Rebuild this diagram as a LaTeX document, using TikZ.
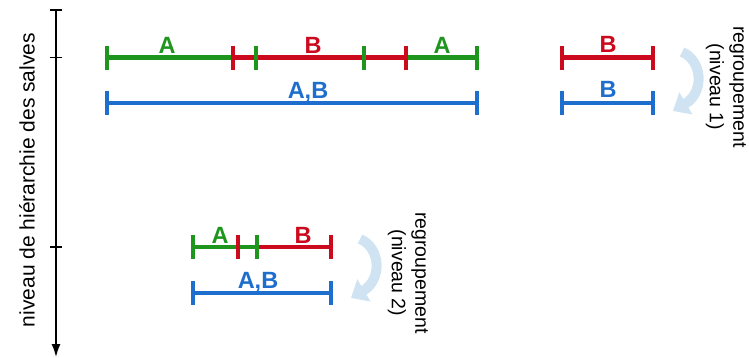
\documentclass[tikz,border=0pt]{standalone}
\usepackage{fontspec}
\setmainfont{Liberation Sans}
\usetikzlibrary{arrows.meta}
\definecolor{segA}{HTML}{1E961E}
\definecolor{segB}{HTML}{CC0A1E}
\definecolor{segAB}{HTML}{1E6ECD}
\definecolor{regfill}{HTML}{CFE3F2}
\tikzset{
  seg/.style={line width=4.8pt},
  tickmark/.style={line width=3.3pt},
  lab/.style={font=\fontsize{23.5}{27}\selectfont\bfseries, anchor=base, inner sep=0pt},
  note/.style={font=\fontsize{19.5}{23.5}\selectfont, align=center, rotate=-90, inner sep=0pt},
  axisline/.style={line width=1.5pt, black},
  regroup/.pic={
    \draw[draw=regfill, line width=10pt, -{Triangle[width=25pt,length=15pt]}]
      (10,2) .. controls (30,10) and (33,42) .. (1,61);
  }
}
\begin{document}
\begin{tikzpicture}[x=1pt,y=-1pt]
  \useasboundingbox (0,0) rectangle (749,357);

  % vertical axis: burst hierarchy level
  \coordinate (axtop) at (56,10);
  \coordinate (axbot) at (56,357);
  \coordinate (lvA) at (56,57.5);
  \coordinate (lvB) at (56,247);
  \draw[axisline, -{Latex[length=13pt,width=9pt]}] (axtop) -- (axbot);
  \draw[axisline] (axtop) ++(-6,0) -- ++(12,0);
  \draw[axisline] (lvA) ++(-6,0) -- ++(12,0);
  \draw[axisline] (lvB) ++(-6,0) -- ++(12,0);
  \node[rotate=90, font=\fontsize{21}{25}\selectfont, inner sep=0pt] (axlabel) at (27,180)
    {niveau de hiérarchie des salves};

  % level 1, left: A / B / A
  \coordinate (p1) at (107,57.5);
  \coordinate (p2) at (233,57.5);
  \coordinate (p3) at (256,57.5);
  \coordinate (p4) at (364,57.5);
  \coordinate (p5) at (406,57.5);
  \coordinate (p6) at (477,57.5);
  \draw[seg, segA] (p1) -- (p3);
  \draw[seg, segA] (p4) -- (p6);
  \draw[seg, segB] (p2) -- (p5);
  \foreach \p in {p1,p3,p4,p6} \draw[tickmark, segA] (\p) ++(0,-12) -- ++(0,24);
  \foreach \p in {p2,p5} \draw[tickmark, segB] (\p) ++(0,-12) -- ++(0,24);
  \node[lab, text=segA] (lA1) at (167,53) {A};
  \node[lab, text=segB] (lB1) at (313,53) {B};
  \node[lab, text=segA] (lA2) at (442,53) {A};

  \coordinate (q1) at (107,103);
  \coordinate (q2) at (477,103);
  \draw[seg, segAB] (q1) -- (q2);
  \foreach \p in {q1,q2} \draw[tickmark, segAB] (\p) ++(0,-12) -- ++(0,24);
  \node[lab, text=segAB] (lAB1) at (308,98) {A,B};

  % level 1, right: B alone
  \coordinate (r1) at (562,57.5);
  \coordinate (r2) at (653,57.5);
  \draw[seg, segB] (r1) -- (r2);
  \foreach \p in {r1,r2} \draw[tickmark, segB] (\p) ++(0,-12) -- ++(0,24);
  \node[lab, text=segB] (lB2) at (608,52) {B};

  \coordinate (s1) at (562,103);
  \coordinate (s2) at (653,103);
  \draw[seg, segAB] (s1) -- (s2);
  \foreach \p in {s1,s2} \draw[tickmark, segAB] (\p) ++(0,-12) -- ++(0,24);
  \node[lab, text=segAB] (lB3) at (608,97) {B};

  \pic (reg1) at (672,50) {regroup};
  \node[note] (note1) at (726,87) {regroupement\\(niveau 1)};

  % level 2: A / B
  \coordinate (t1) at (193,247);
  \coordinate (t2) at (238,247);
  \coordinate (t3) at (257,247);
  \coordinate (t4) at (331,247);
  \draw[seg, segB] (t2) -- (t4);
  \draw[seg, segA] (t1) -- (t3);
  \foreach \p in {t1,t3} \draw[tickmark, segA] (\p) ++(0,-12) -- ++(0,24);
  \foreach \p in {t2,t4} \draw[tickmark, segB] (\p) ++(0,-12) -- ++(0,24);
  \node[lab, text=segA] (lA3) at (220,243) {A};
  \node[lab, text=segB] (lB4) at (303,243) {B};

  \coordinate (u1) at (193,293);
  \coordinate (u2) at (331,293);
  \draw[seg, segAB] (u1) -- (u2);
  \foreach \p in {u1,u2} \draw[tickmark, segAB] (\p) ++(0,-12) -- ++(0,24);
  \node[lab, text=segAB] (lAB2) at (258,288) {A,B};

  \pic (reg2) at (350,237) {regroup};
  \node[note] (note2) at (408,273) {regroupement\\(niveau 2)};
\end{tikzpicture}
\end{document}
